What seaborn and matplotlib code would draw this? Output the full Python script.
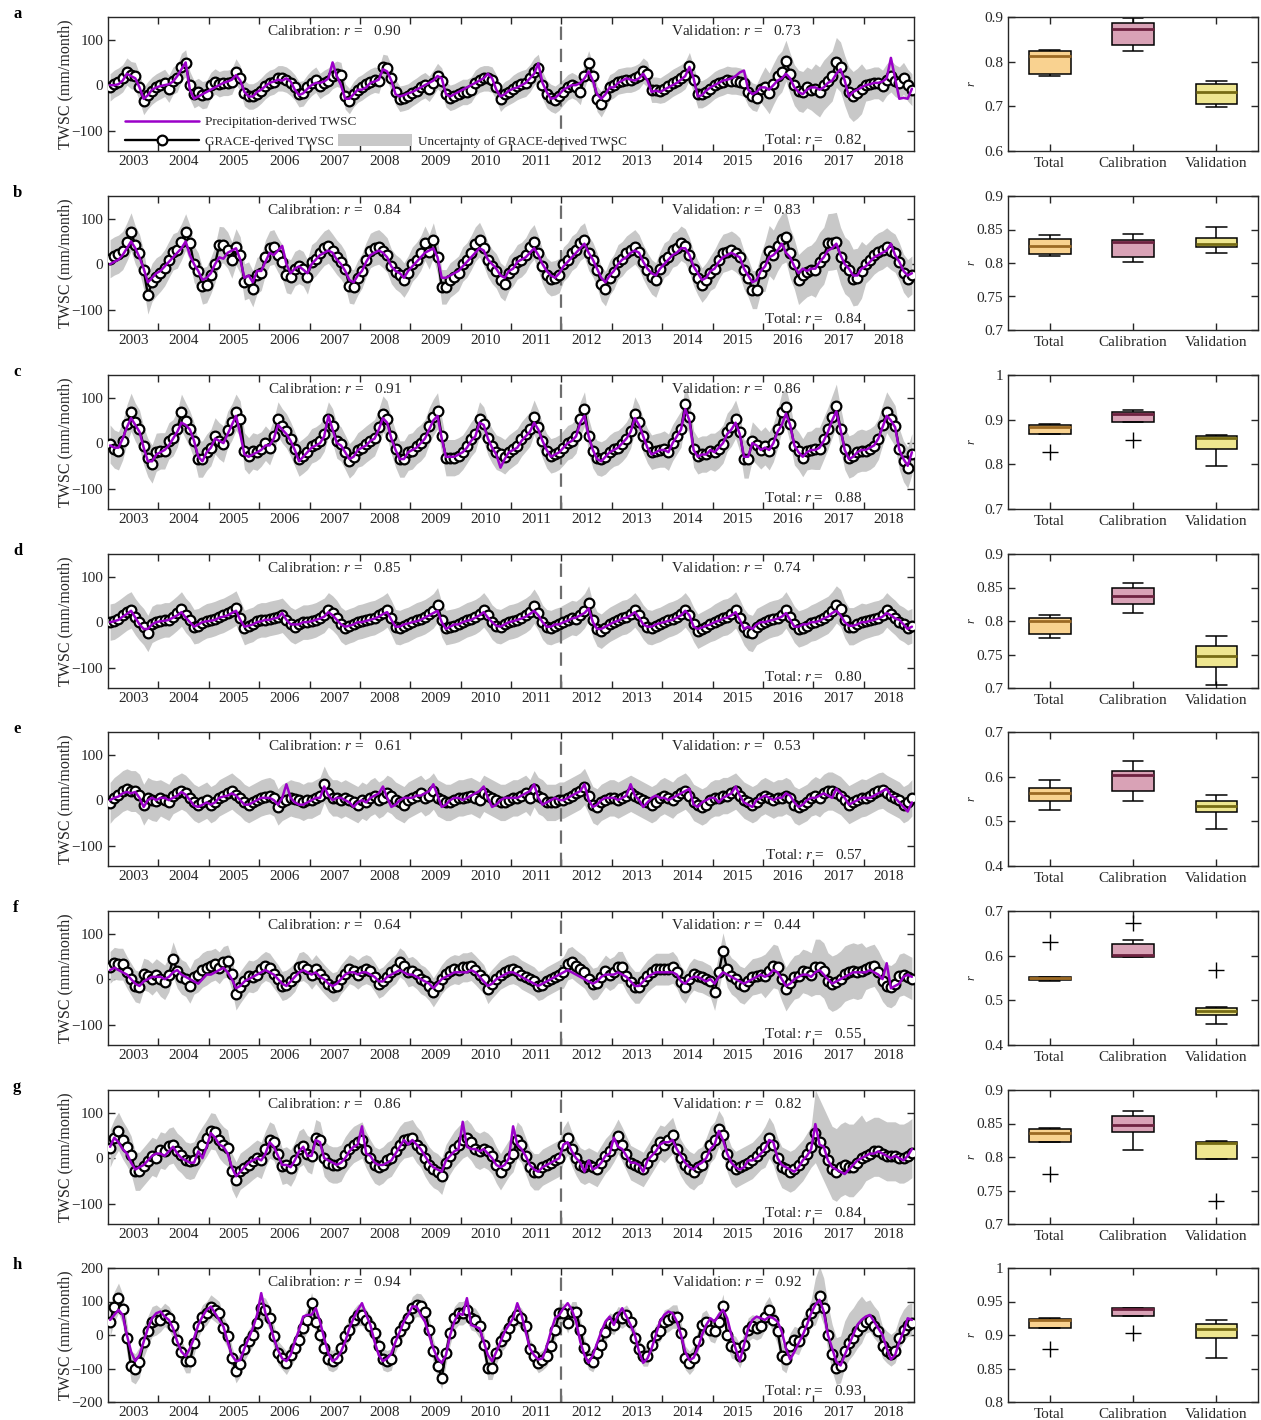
import numpy as np
import pandas as pd
import matplotlib
matplotlib.use("Agg")
import matplotlib.pyplot as plt
from matplotlib.lines import Line2D
from matplotlib.patches import Patch
from matplotlib.ticker import FormatStrFormatter
import seaborn as sns

# ---------------------------------------------------------------- data
YEARS = list(range(2003, 2019))
PANELS = ["a", "b", "c", "d", "e", "f", "g", "h"]

# Monthly TWSC (mm/month), Jan 2003 - Dec 2018, one row per year
GRACE_A = [
    -5, 3, 8, 15, 30, 22, 20, -5, -35, -22, -12, -5,
    0, 5, -8, 10, 15, 40, 48, 0, -20, -15, -22, -20,
    0, 8, 2, 5, 5, 8, 30, 15, -18, -25, -25, -20,
    -12, -2, 5, 8, 15, 15, 12, 5, -5, -20, -18, -5,
    5, 12, -2, 5, 10, 20, 25, 22, -25, -35, -20, -10,
    -5, 2, 8, 12, 10, 40, 38, 15, -15, -30, -28, -25,
    -18, -12, -5, 0, -8, 5, 20, 10, -20, -28, -25, -20,
    -15, -15, -10, 5, 12, 15, 15, 12, -5, -30, -20, -15,
    -8, -2, 2, 5, 15, 30, 38, 0, -20, -28, -32, -25,
    -15, -5, 0, -5, -15, 20, 48, 20, -30, -42, -25, -5,
    0, 8, 10, 12, 12, 15, 20, 32, 24, -10, -10, -12,
    -8, -2, 5, 10, 15, 22, 42, 12, -20, -20, -15, -8,
    0, 5, 8, 12, 10, 10, 8, 5, -15, -25, -28, -8,
    -5, -18, 2, 20, 30, 54, 25, 0, -12, -15, -5, -10,
    -8, -15, 0, 10, 20, 50, 40, 10, -15, -25, -18, -8,
    0, 2, 5, 5, -2, 12, 20, 10, 5, 15, 0, -10,
]
PRECIP_A = [
    0, 0, 2, 10, 25, 20, 15, -5, -30, -22, -10, -5,
    -2, 0, 2, 8, 20, 35, 50, -10, -30, -25, -20, -15,
    -10, -5, 0, 5, 8, 12, 22, 10, -15, -25, -25, -15,
    -10, -2, 5, 8, 12, 10, 15, 8, -10, -22, -18, -8,
    0, 5, 5, 8, 15, 50, 20, 0, -30, -30, -20, -10,
    -10, -5, 5, 8, 12, 35, 30, 10, -20, -25, -22, -18,
    -15, -10, -5, 0, 5, 10, 20, 15, -20, -25, -20, -15,
    -10, -5, 0, 5, 10, 15, 25, 15, -10, -25, -20, -12,
    -8, -5, 0, 5, 15, 25, 48, 5, -15, -30, -28, -20,
    -10, -5, 0, 0, 5, 15, 30, 10, -20, -30, -20, -5,
    -5, 5, 10, 15, 12, 10, 15, 25, 10, -15, -12, -15,
    -10, -5, 0, 5, 12, 20, 40, 15, -25, -22, -12, -5,
    0, 5, 10, 12, 15, 20, 28, 32, -10, -20, -15, -5,
    -5, -10, 0, 10, 15, 25, 15, -5, -15, -20, -10, -5,
    -5, -10, -5, 5, 10, 25, 35, 10, -25, -15, -10, -5,
    0, 2, 5, 5, 8, 15, 60, 15, -30, -28, -30, -8,
]
BAND_LO_A = [30, 30, 28, 28, 28, 28, 28, 28, 30, 28, 28, 30, 30, 45, 55, 35]
BAND_HI_A = [30, 30, 28, 28, 28, 28, 28, 28, 30, 28, 28, 30, 30, 45, 55, 35]

GRACE_B = [
    12, 18, 22, 30, 49, 71, 42, 24, -13, -68, -40, -28,
    -20, -8, 10, 27, 31, 49, 71, 46, 0, -15, -48, -45,
    -25, 0, 43, 42, 31, 9, 38, 20, -39, -35, -54, -25,
    -20, 15, 35, 38, 20, 5, -25, -28, -10, -5, -10, -28,
    5, 12, 24, 35, 40, 28, 15, 5, -10, -48, -50, -30,
    -15, 10, 30, 35, 38, 30, 20, -5, -17, -24, -35, -20,
    0, 10, 24, 46, 27, 53, 16, -50, -50, -35, -28, -20,
    0, 9, 25, 44, 54, 35, 10, -5, -15, -35, -43, -20,
    -10, 5, 10, 20, 38, 49, 24, -5, -24, -32, -30, -25,
    0, 9, 24, 31, 46, 53, 24, 10, -13, -43, -54, -30,
    -17, 5, 12, 24, 31, 38, 27, 5, -13, -28, -35, -10,
    9, 15, 31, 35, 46, 40, 20, -10, -30, -46, -35, -20,
    -10, 9, 24, 27, 31, 25, 16, -13, -30, -56, -56, -20,
    -5, 30, 20, 40, 55, 60, 24, 0, -34, -25, -17, -13,
    -13, 5, 16, 46, 47, 49, 16, -5, -13, -32, -30, -15,
    0, 9, 20, 27, 31, 38, 30, 24, 5, -20, -32, -24,
]
PRECIP_B = [
    0, 5, 10, 20, 35, 50, 35, 15, -10, -40, -30, -20,
    -15, -5, 5, 15, 25, 35, 50, 20, 0, -15, -35, -30,
    -20, 0, 15, 12, 25, 30, 35, 10, -30, -25, -40, -15,
    -15, 5, 25, 20, 30, 40, 0, -20, -10, -5, -12, -20,
    0, 10, 20, 25, 30, 25, 10, 0, -15, -35, -40, -25,
    -15, 5, 20, 25, 30, 25, 15, -5, -15, -20, -30, -15,
    -5, 5, 15, 25, 30, 35, 15, -30, -30, -25, -20, -15,
    -5, 5, 15, 25, 35, 30, 10, 0, -10, -25, -30, -15,
    -10, 5, 10, 15, 25, 35, 20, 0, -15, -25, -30, -20,
    -5, 5, 15, 25, 35, 45, 25, 10, -10, -30, -40, -25,
    -15, 0, 10, 15, 25, 30, 25, 5, -10, -20, -25, -10,
    0, 10, 20, 25, 35, 35, 20, -5, -20, -35, -30, -15,
    -10, 5, 15, 20, 25, 20, 15, -10, -25, -40, -35, -15,
    -5, 15, 20, 30, 45, 25, 15, -5, -20, -10, -15, -10,
    -10, 5, 15, 30, 35, 45, 20, 0, -10, -25, -25, -10,
    -5, 5, 15, 20, 25, 30, 45, 20, 5, -15, -25, -20,
]
BAND_LO_B = [42, 40, 40, 38, 38, 38, 38, 38, 38, 38, 38, 38, 42, 55, 60, 42]
BAND_HI_B = [42, 40, 40, 38, 38, 38, 38, 38, 38, 38, 38, 38, 42, 55, 65, 42]

GRACE_C = [
    -2, -13, -17, 5, 42, 68, 46, 31, -6, -32, -46, -20,
    -17, -17, 5, 12, 31, 68, 49, 31, 5, -35, -35, -20,
    -10, 16, 5, -2, 30, 46, 68, 53, -17, -28, -17, -20,
    -13, 0, -10, 15, 53, 38, 27, 9, -13, -35, -28, -20,
    -6, -2, 5, 20, 53, 38, 5, -2, -20, -39, -30, -15,
    -10, -2, 5, 12, 35, 64, 53, 16, -13, -35, -35, -20,
    -17, -6, 1, 12, 38, 57, 71, 16, -32, -32, -32, -28,
    -20, -6, 9, 20, 53, 42, 12, -6, -20, -24, -30, -20,
    -13, -6, 9, 20, 31, 57, 35, 5, -17, -28, -25, -20,
    -10, 1, 5, 16, 53, 75, 16, -17, -32, -35, -30, -20,
    -13, -10, -2, 9, 27, 64, 46, 16, -6, -20, -17, -15,
    -13, -20, 1, 16, 31, 86, 57, -13, -28, -24, -24, -18,
    -20, -13, -2, 24, 35, 53, 24, -35, -35, 5, -5, -15,
    -6, -17, 1, 31, 68, 79, 42, -6, -17, -32, -17, -15,
    -13, -13, 9, 31, 57, 82, 31, -13, -32, -28, -20, -17,
    -17, -13, -6, 9, 40, 68, 53, 38, -13, -40, -54, -24,
]
PRECIP_C = [
    -5, -10, -10, 10, 35, 55, 40, 25, -10, -40, -40, -25,
    -20, -15, -5, 10, 25, 45, 40, 30, 5, -30, -40, -20,
    -10, 10, 5, 0, 20, 40, 60, 20, -25, -30, -25, -20,
    -15, -5, -5, 10, 40, 30, 20, 5, -15, -40, -30, -20,
    -10, -5, 0, 15, 60, 30, 0, -5, -20, -35, -30, -15,
    -10, -5, 5, 10, 30, 55, 45, 10, -15, -35, -35, -20,
    -15, -10, 0, 10, 30, 50, 60, 10, -30, -30, -30, -25,
    -20, -10, 5, 15, 45, 40, 10, -10, -25, -54, -35, -20,
    -15, -10, 5, 15, 25, 45, 30, 5, -15, -30, -25, -20,
    -10, 0, 5, 15, 45, 60, 15, -15, -35, -40, -30, -20,
    -15, -10, 0, 10, 25, 55, 40, 15, -10, -25, -20, -15,
    -15, -20, 0, 15, 30, 75, 50, -15, -30, -25, -25, -15,
    -20, -10, 0, 20, 30, 45, 20, -30, -30, 0, -5, -15,
    -10, -15, 0, 25, 40, 65, 40, -5, -20, -30, -20, -15,
    -15, -10, 5, 25, 50, 70, 30, -15, -35, -30, -20, -15,
    -15, -10, -5, 10, 35, 60, 50, 35, -15, -35, -50, -20,
]
BAND_LO_C = [42, 40, 40, 38, 38, 40, 40, 38, 38, 38, 38, 40, 42, 42, 45, 45]
BAND_HI_C = [42, 40, 40, 38, 38, 40, 40, 38, 38, 38, 38, 40, 42, 42, 48, 45]

GRACE_D = [
    0, 2, 8, 15, 22, 27, 12, 0, -10, -25, -5, 0,
    2, 5, 5, 12, 20, 29, 15, 5, -10, -8, -2, 3,
    5, 8, 12, 15, 20, 25, 31, 10, -12, -8, -5, 2,
    5, 5, 8, 10, 12, 15, 5, -5, -10, -5, 0, 0,
    2, 5, 10, 15, 27, 20, 10, -5, -12, -8, -5, 0,
    2, 5, 8, 10, 15, 20, 27, 10, -10, -12, -8, -5,
    0, 5, 8, 12, 18, 25, 38, 5, -12, -10, -8, -5,
    0, 5, 8, 12, 18, 27, 15, 0, -8, -10, -5, 0,
    2, 5, 10, 15, 22, 35, 20, 0, -10, -12, -8, -5,
    0, 5, 10, 8, 15, 25, 42, 5, -15, -20, -12, -5,
    0, 5, 10, 12, 18, 27, 15, 0, -10, -12, -8, -5,
    0, 5, 8, 12, 18, 27, 15, -5, -20, -15, -10, -5,
    0, 5, 10, 12, 18, 27, 10, -10, -22, -25, -10, -5,
    0, 5, 8, 10, 15, 27, 12, -5, -15, -12, -8, -2,
    0, 5, 10, 15, 25, 38, 30, 5, -10, -10, -5, 0,
    2, 5, 8, 10, 15, 27, 18, 10, 0, -5, -12, -8,
]
PRECIP_D = [
    0, 2, 5, 12, 18, 25, 10, -5, -15, -15, -5, 0,
    2, 3, 5, 10, 15, 22, 10, 0, -10, -5, 0, 2,
    3, 5, 10, 12, 15, 20, 25, 5, -10, -8, -5, 0,
    2, 5, 5, 8, 10, 20, 5, -5, -5, -5, 0, 0,
    2, 5, 8, 12, 22, 15, 5, -5, -10, -8, -5, 0,
    0, 3, 5, 8, 12, 18, 22, 5, -10, -10, -5, -3,
    0, 2, 5, 10, 15, 20, 25, 0, -15, -10, -5, -5,
    0, 3, 5, 10, 15, 22, 10, 0, -8, -10, -5, 0,
    2, 5, 8, 12, 18, 25, 15, 0, -10, -10, -5, -5,
    0, 3, 8, 10, 15, 20, 30, 0, -15, -15, -10, -5,
    0, 3, 8, 10, 15, 22, 10, -5, -10, -10, -5, -2,
    0, 3, 5, 10, 15, 25, 15, -10, -15, -12, -8, -5,
    0, 3, 8, 10, 15, 22, 5, -15, -10, -15, -5, 0,
    0, 3, 5, 8, 12, 20, 5, -10, -10, -5, -5, 0,
    0, 3, 8, 12, 20, 25, 15, 0, -8, -8, -5, 0,
    0, 3, 5, 8, 12, 20, 15, 8, 5, -5, -15, -10,
]
BAND_LO_D = [40, 38, 38, 38, 38, 38, 38, 38, 38, 38, 38, 38, 40, 40, 40, 38]
BAND_HI_D = [40, 38, 38, 38, 38, 38, 38, 38, 38, 38, 38, 38, 40, 40, 42, 38]

GRACE_E = [
    -6, 5, 12, 20, 24, 20, 20, 12, -10, 5, 0, -2,
    5, 0, -5, 10, 15, 20, 15, 5, -5, -10, -5, 0,
    -10, -5, 5, 10, 15, 20, 12, 5, -5, -10, -5, 0,
    5, 8, 10, 5, -15, -5, 0, 5, 2, 0, -5, 0,
    0, 5, 10, 35, 15, 5, 5, 0, 5, 0, -5, -10,
    0, -5, 5, 10, 0, 5, 15, 10, 0, -5, -10, 0,
    5, 10, 15, 5, 10, 20, 5, 0, -5, -5, 0, 5,
    5, 8, 10, 5, 0, 15, 10, 5, 0, -5, -5, 0,
    5, 5, 10, 15, 5, 25, 10, 5, -5, -5, -5, 0,
    0, 5, 10, 15, 20, 30, 10, -10, -15, -5, 0, 5,
    5, 0, 5, 10, 15, 10, 5, 0, -5, -10, -5, 5,
    10, 5, 0, 10, 15, 20, 10, -5, -10, -15, -10, 0,
    5, 5, 10, 10, 15, 20, 10, 0, -5, -10, -5, 5,
    10, 5, 0, 5, 5, 10, 5, -10, -15, -10, -5, 5,
    10, 5, 15, 20, 20, 15, 10, 0, -10, -5, 0, 5,
    5, 10, 15, 20, 22, 15, 10, 5, 0, -10, -5, 5,
]
PRECIP_E = [
    0, 5, 8, 15, 18, 15, 18, 5, -15, 0, 5, 0,
    5, 5, 0, 5, 10, 18, 12, 0, -12, -15, -10, -5,
    -10, -5, 5, 8, 10, 15, 10, 0, -10, -10, -5, 0,
    5, 5, 5, 0, -10, 5, 35, 5, -5, -10, -10, -5,
    0, 5, 5, 30, 10, 0, 5, 5, 0, -5, -15, -5,
    0, -5, 5, 10, 15, 30, 5, -15, -10, 0, 5, 5,
    5, 10, 10, 15, 20, 35, 10, -15, -10, 0, 5, 5,
    0, 5, 10, 15, 20, 30, 5, -15, -10, 0, 5, 5,
    5, 5, 10, 15, 20, 35, 5, -10, -5, 0, 5, 0,
    0, 5, 10, 15, 20, 35, 0, -15, -10, 0, 5, 5,
    5, 0, 5, 10, 35, 10, 0, -15, -5, 5, 10, 5,
    5, 0, 5, 10, 15, 20, 25, -10, -15, -5, 0, 5,
    5, -5, 5, 10, 15, 30, 10, -5, -10, -15, 0, 5,
    10, 5, 0, 5, 5, 15, 10, -5, -15, -10, 0, 5,
    5, 10, 15, 10, 5, 25, 15, 5, -10, -5, 0, 5,
    5, 5, 10, 15, 20, 25, 10, 5, -5, -15, -25, -5,
]
BAND_LO_E = [45, 40, 40, 40, 40, 40, 40, 40, 40, 40, 40, 40, 40, 40, 42, 40]
BAND_HI_E = [45, 40, 40, 40, 40, 40, 40, 40, 40, 40, 40, 40, 40, 40, 42, 40]

GRACE_F = [
    26, 35, 33, 33, 15, 0, -15, -18, 11, 8, 0, 10,
    0, -7, 10, 44, 18, 5, 0, -15, 5, 10, 20, 25,
    29, 33, 25, 37, 40, 11, -33, -18, -5, 7, 5, 10,
    22, 29, 25, 12, 0, -15, -12, -5, 5, 26, 29, 22,
    10, 22, 11, 0, -10, -18, -15, 0, 11, 22, 18, 10,
    18, 22, 18, 5, -10, -5, 5, 15, 22, 37, 30, 15,
    18, 11, 0, -5, -15, -29, -15, 0, 11, 18, 22, 20,
    26, 26, 29, 20, 10, 0, -22, -10, 0, 10, 15, 20,
    22, 18, 10, 5, 0, -5, -15, -12, -5, 0, 5, 10,
    15, 33, 37, 29, 22, 15, 0, -11, -8, 5, 18, 10,
    15, 26, 26, 7, -7, -18, -18, -5, 7, 15, 22, 22,
    22, 22, 26, 15, -7, -18, 0, 11, 7, 5, 0, -5,
    -29, 15, 62, 22, 7, 0, -11, -15, -5, 5, 7, 10,
    7, 18, 29, 26, 0, -22, -8, 4, 7, 18, 15, 10,
    26, 26, 18, -4, -11, -7, 0, 11, 15, 18, 15, 18,
    22, 26, 29, 15, -4, -15, -18, -11, 7, 10, 5, 0,
]
PRECIP_F = [
    20, 25, 20, 15, 10, 0, -10, -15, -5, 0, 5, 5,
    5, 0, 5, 15, 20, 10, 5, 0, -5, -10, 0, 10,
    10, 15, 20, 25, 15, 0, -20, -15, -5, 0, 5, 10,
    15, 20, 15, 10, 0, -10, -15, -5, 5, 15, 20, 15,
    10, 15, 5, 0, -10, -15, -10, 0, 10, 15, 15, 10,
    15, 15, 10, 5, -5, -5, 5, 10, 15, 20, 15, 10,
    10, 5, 0, -5, -10, -20, -10, 0, 5, 10, 15, 15,
    15, 15, 20, 15, 5, -5, -15, -10, 0, 5, 10, 15,
    15, 10, 5, 0, -5, -10, -15, -10, -5, 0, 5, 10,
    15, 20, 15, 10, 5, 0, -5, -10, -5, 5, 10, 10,
    10, 15, 10, 5, -5, -15, -15, -5, 5, 10, 15, 15,
    15, 15, 15, 10, -5, -10, 0, 5, 5, 0, -5, 0,
    -10, 5, 15, 10, 5, 0, -5, -10, -5, 0, 5, 10,
    5, 10, 20, 15, 0, -15, -10, 0, 5, 10, 10, 5,
    15, 20, 10, 0, -10, -5, 0, 5, 10, 15, 15, 15,
    15, 20, 15, 10, 0, 35, -20, -15, -10, 5, 10, 5,
]
BAND_LO_F = [35, 38, 35, 32, 32, 32, 32, 32, 32, 35, 35, 35, 40, 48, 60, 45]
BAND_HI_F = [35, 38, 35, 32, 32, 32, 32, 32, 32, 35, 35, 35, 40, 48, 62, 48]

GRACE_G = [
    22, 44, 59, 40, 25, 7, -29, -29, -18, -7, 4, 0,
    18, 15, 26, 29, 15, 7, -4, -7, -4, 15, 30, 44,
    60, 58, 40, 29, 22, -29, -48, -29, -22, -15, -7, 0,
    -5, 20, 40, 35, 10, -18, -15, -22, -5, 20, 26, 10,
    5, 45, 40, 0, -11, -15, -15, -11, 7, 20, 30, 35,
    40, 18, 0, -15, -20, -15, -5, 0, 15, 30, 40, 42,
    45, 30, 20, 0, -15, -25, -30, -40, -10, 5, 20, 30,
    40, 45, 35, 20, 15, 20, 15, 5, -15, -30, -15, 0,
    10, 40, 30, 5, -20, -30, -30, -20, -15, -10, -5, 0,
    30, 45, 20, 0, -15, -20, -15, -20, -25, -10, 5, 15,
    30, 48, 30, 10, -10, -15, -20, -25, -10, 5, 20, 35,
    30, 40, 50, 20, 0, -15, -25, -30, -20, -15, 5, 30,
    40, 65, 50, 10, -15, -25, -20, -15, -10, -5, 5, 15,
    25, 45, 30, 0, -20, -25, -30, -25, -15, -5, 10, 25,
    55, 35, 15, -5, -25, -30, -20, -15, -20, -20, -10, 0,
    5, 10, 15, 15, 10, 5, 5, 5, 0, 0, 5, 12,
]
PRECIP_G = [
    25, 45, 35, 20, 10, -10, -25, -20, -15, -5, 5, 10,
    10, 5, 15, 25, 10, 0, -5, -10, -10, 15, 0, 25,
    55, 45, 30, 25, 10, -20, -40, -30, -20, -10, -5, 0,
    -5, 10, 35, 25, 5, -15, -15, -20, -5, 15, 25, 5,
    5, 40, 35, 0, -5, -10, -15, -10, 0, 15, 25, 30,
    70, 10, 5, -10, -15, -15, -10, -5, 10, 25, 40, 30,
    40, 30, 20, 5, -10, -20, -25, -30, -5, 5, 15, 20,
    80, 25, 20, 20, 15, 20, 10, 0, -15, -20, -15, 0,
    70, 30, 20, 5, -15, -25, -30, -20, -15, -10, -5, 0,
    30, 35, 15, 0, -10, -30, -5, -25, -20, -10, 5, 10,
    45, 25, 20, 5, -10, -10, -15, -30, -5, 5, 15, 30,
    35, 35, 40, 20, 5, -10, -20, -25, -15, -10, 0, 20,
    30, 60, 40, 10, -10, -20, -25, -20, -5, -5, 0, 10,
    20, 40, 35, 0, -15, -20, -25, -30, -20, -5, 5, 20,
    75, 30, 25, -5, -20, -25, -30, -35, -25, -15, -5, 0,
    5, 10, 10, 15, 10, 5, 0, 5, 0, -5, 5, 20,
]
BAND_LO_G = [42, 40, 40, 40, 40, 40, 40, 40, 40, 38, 38, 40, 40, 45, 65, 55]
BAND_HI_G = [42, 40, 40, 40, 40, 40, 40, 40, 40, 38, 38, 40, 40, 45, 95, 75]

GRACE_H = [
    40, 85, 110, 77, -9, -93, -101, -81, -22, 11, 40, 45,
    45, 60, 50, 26, -14, -51, -78, -78, -24, 26, 55, 65,
    85, 75, 65, 20, -4, -68, -108, -88, -43, -19, 1, 36,
    80, 75, 50, -4, -53, -68, -83, -60, -39, -14, 20, 45,
    95, 40, 0, -39, -73, -78, -70, -39, -4, 16, 45, 60,
    60, 45, 26, 6, -34, -73, -78, -73, -19, 11, 30, 50,
    80, 90, 88, 70, 16, -48, -93, -127, -53, 6, 50, 65,
    65, 75, 50, 45, 26, -29, -98, -98, -53, -19, -4, 21,
    45, 60, 50, 26, -43, -63, -83, -75, -63, -34, 16, 65,
    65, 36, 70, 70, 16, -40, -73, -80, -53, -29, 10, 36,
    31, 55, 50, 60, 40, -9, -43, -63, -63, -29, 1, 11,
    40, 45, 55, 55, 6, -68, -83, -68, -19, 31, 40, 16,
    11, 40, 87, 1, -34, -39, -63, -30, 16, 26, 20, 26,
    55, 75, 45, 11, -63, -73, -34, -14, -19, 11, 36, 65,
    80, 115, 80, 1, -58, -98, -93, -48, -24, -9, 11, 26,
    40, 45, 26, 11, -34, -48, -58, -48, -9, 16, 31, 36,
]
PRECIP_H = [
    45, 60, 75, 60, 0, -50, -78, -60, -20, 20, 50, 65,
    70, 55, 45, 20, -20, -50, -63, -40, -10, 30, 55, 75,
    85, 65, 45, 25, -20, -60, -78, -75, -40, -10, 20, 60,
    125, 65, 35, -10, -45, -70, -78, -60, -20, 15, 55, 60,
    60, 80, 40, -10, -55, -78, -70, -50, -20, 20, 50, 75,
    95, 60, 30, -20, -60, -78, -70, -55, -20, 10, 40, 60,
    85, 85, 60, 40, 0, -40, -70, -83, -60, 0, 40, 65,
    60, 110, 30, 25, 20, -20, -60, -78, -50, -20, 10, 30,
    50, 95, 60, 10, -40, -60, -73, -70, -35, 10, 50, 60,
    80, 95, 75, 40, -20, -60, -83, -60, -25, 10, 40, 55,
    30, 60, 80, 55, 30, 0, -50, -83, -70, -40, 0, 40,
    60, 70, 65, 40, 0, -50, -75, -68, -40, 0, 30, 50,
    40, 60, 75, 50, 0, -40, -78, -30, 20, 45, 55, 50,
    45, 55, 50, 40, 10, -40, -73, -50, -25, 0, 30, 65,
    90, 105, 70, 0, -40, -80, -91, -60, -30, 0, 30, 45,
    55, 60, 40, 20, 0, -40, -73, -60, -20, 10, 50, 45,
]
BAND_LO_H = [45, 35, 35, 35, 32, 32, 35, 35, 30, 30, 30, 35, 35, 40, 50, 35]
BAND_HI_H = [45, 35, 35, 35, 32, 32, 35, 35, 30, 30, 30, 35, 35, 40, 90, 60]

# Correlation coefficients quoted in each panel
CAL_R = [0.90, 0.84, 0.91, 0.85, 0.61, 0.64, 0.86, 0.94]
VAL_R = [0.73, 0.83, 0.86, 0.74, 0.53, 0.44, 0.82, 0.92]
TOT_R = [0.82, 0.84, 0.88, 0.80, 0.57, 0.55, 0.84, 0.93]

# Ensemble correlation coefficients for the box plots
TOTAL_A = [0.768, 0.772, 0.812, 0.824, 0.826]
CALIB_A = [0.824, 0.838, 0.873, 0.886, 0.897]
VALID_A = [0.699, 0.705, 0.731, 0.751, 0.757]
TOTAL_B = [0.810, 0.814, 0.826, 0.836, 0.842]
CALIB_B = [0.802, 0.809, 0.831, 0.835, 0.844]
VALID_B = [0.815, 0.824, 0.829, 0.837, 0.854]
TOTAL_C = [0.828, 0.868, 0.884, 0.889, 0.891]
CALIB_C = [0.855, 0.895, 0.912, 0.918, 0.921]
VALID_C = [0.797, 0.835, 0.858, 0.863, 0.866]
TOTAL_D = [0.775, 0.780, 0.800, 0.805, 0.809]
CALIB_D = [0.812, 0.825, 0.838, 0.849, 0.857]
VALID_D = [0.705, 0.732, 0.748, 0.763, 0.778]
TOTAL_E = [0.525, 0.545, 0.563, 0.574, 0.592]
CALIB_E = [0.545, 0.567, 0.603, 0.612, 0.635]
VALID_E = [0.482, 0.520, 0.535, 0.546, 0.560]
TOTAL_F = [0.543, 0.546, 0.549, 0.553, 0.630]
CALIB_F = [0.596, 0.597, 0.598, 0.600, 0.601, 0.610, 0.626, 0.636, 0.673]
VALID_F = [0.447, 0.460, 0.468, 0.472, 0.475, 0.480, 0.483, 0.486, 0.568]
TOTAL_G = [0.775, 0.822, 0.836, 0.842, 0.843]
CALIB_G = [0.810, 0.837, 0.848, 0.861, 0.868]
VALID_G = [0.735, 0.797, 0.821, 0.823, 0.824]
TOTAL_H = [0.879, 0.910, 0.923, 0.924, 0.925]
CALIB_H = [0.903, 0.928, 0.939, 0.940, 0.941]
VALID_H = [0.865, 0.895, 0.909, 0.917, 0.922]

PERIODS = ["Total", "Calibration", "Validation"]

# ---------------------------------------------------------------- style
sns.set_theme(style="ticks")
plt.rcParams.update({
    "font.family": ["Liberation Serif", "DejaVu Serif"],
    "mathtext.fontset": "custom",
    "mathtext.rm": "Liberation Serif",
    "mathtext.it": "Liberation Serif:italic",
    "axes.edgecolor": "#262626",
    "axes.linewidth": 1.0,
    "xtick.color": "#262626",
    "ytick.color": "#262626",
    "axes.labelcolor": "#262626",
    "text.color": "#262626",
    "figure.facecolor": "white",
    "axes.facecolor": "white",
})

PURPLE = "#9b00c8"
BAND = "#c8c8c8"
BOX_FACE = ["#f9d290", "#d9a2b6", "#eee690"]
BOX_MEDIAN = ["#9c6a25", "#6e2240", "#776c14"]

W, H = 1261, 1420
ROW_TOPS = [17, 196, 375, 554, 732, 911, 1090, 1268]
AX_H = 134

t = 2003 + (np.arange(len(YEARS) * 12) + 0.5) / 12


def draw_series(ax, grace, precip, lo, hi, ylim, yticks, r_cal, r_val, r_tot):
    g = np.asarray(grace, float)
    p = np.asarray(precip, float)
    lo_m = np.repeat(np.asarray(lo, float), 12)
    hi_m = np.repeat(np.asarray(hi, float), 12)
    ax.fill_between(t, g - lo_m, g + hi_m, color=BAND, linewidth=0, zorder=1)
    ax.axvline(2012, color="#6e6e6e", linewidth=1.6, dashes=(6, 4), zorder=2)
    sns.lineplot(x=t, y=g, ax=ax, color="black", linewidth=1.7, marker="o",
                 markersize=7, markerfacecolor="white", markeredgecolor="black",
                 markeredgewidth=1.6, zorder=3)
    sns.lineplot(x=t, y=p, ax=ax, color=PURPLE, linewidth=1.8, zorder=4)

    ax.set_xlim(2003, 2019)
    ax.set_ylim(*ylim)
    ax.set_yticks(yticks)
    ax.set_xticks(np.arange(2004, 2019))
    ax.set_xticklabels([])
    ax.set_xticks(np.array(YEARS) + 0.5, minor=True)
    ax.set_xticklabels([str(y) for y in YEARS], minor=True)
    ax.tick_params(axis="x", which="minor", length=0, pad=3, labelsize=11)
    ax.tick_params(which="major", direction="in", length=5, width=1,
                   top=True, right=True, labelsize=11)
    ax.set_ylabel("TWSC (mm/month)", fontsize=11.5)
    ax.yaxis.set_label_coords(-0.043, 0.5)
    ax.set_xlabel("")

    tr = ax.get_xaxis_transform()
    ax.text(2007.5, 0.895, f"Calibration: $r$ =   {r_cal:.2f}", transform=tr,
            ha="center", va="center", fontsize=11, zorder=6)
    ax.text(2015.48, 0.895, f"Validation: $r$ =   {r_val:.2f}", transform=tr,
            ha="center", va="center", fontsize=11, zorder=6)
    ax.text(2017.0, 0.085, f"Total: $r$ =   {r_tot:.2f}", transform=tr,
            ha="center", va="center", fontsize=11, zorder=6)


def draw_box(ax, total, calib, valid, ylim, yticks):
    df = pd.DataFrame({
        "period": ["Total"] * len(total) + ["Calibration"] * len(calib)
        + ["Validation"] * len(valid),
        "r": list(total) + list(calib) + list(valid),
    })
    sns.boxplot(data=df, x="period", y="r", hue="period", order=PERIODS,
                hue_order=PERIODS, palette=BOX_FACE, saturation=1, width=0.5,
                linecolor="black", linewidth=1.1, whis=1.5, legend=False,
                flierprops=dict(marker="+", markersize=11, markeredgecolor="black",
                                markeredgewidth=1.0),
                ax=ax)
    for cont, col in zip(ax.containers, BOX_MEDIAN):
        for m in getattr(cont, "medians", []):
            m.set_color(col)
            m.set_linewidth(2.0)
    ax.set_xlim(-0.5, 2.5)
    ax.set_ylim(*ylim)
    ax.set_yticks(yticks)
    ax.yaxis.set_major_formatter(FormatStrFormatter("%g"))
    ax.tick_params(which="major", direction="in", length=5, width=1,
                   top=True, right=True, labelsize=11)
    ax.tick_params(axis="x", pad=4)
    ax.set_xlabel("")
    ax.set_ylabel("r", fontstyle="italic", fontsize=9)
    ax.yaxis.set_label_coords(-0.124, 0.5)


SERIES = [
    (GRACE_A, PRECIP_A, BAND_LO_A, BAND_HI_A),
    (GRACE_B, PRECIP_B, BAND_LO_B, BAND_HI_B),
    (GRACE_C, PRECIP_C, BAND_LO_C, BAND_HI_C),
    (GRACE_D, PRECIP_D, BAND_LO_D, BAND_HI_D),
    (GRACE_E, PRECIP_E, BAND_LO_E, BAND_HI_E),
    (GRACE_F, PRECIP_F, BAND_LO_F, BAND_HI_F),
    (GRACE_G, PRECIP_G, BAND_LO_G, BAND_HI_G),
    (GRACE_H, PRECIP_H, BAND_LO_H, BAND_HI_H),
]
BOXES = [
    (TOTAL_A, CALIB_A, VALID_A, (0.6, 0.9), [0.6, 0.7, 0.8, 0.9]),
    (TOTAL_B, CALIB_B, VALID_B, (0.7, 0.9), [0.7, 0.75, 0.8, 0.85, 0.9]),
    (TOTAL_C, CALIB_C, VALID_C, (0.7, 1.0), [0.7, 0.8, 0.9, 1.0]),
    (TOTAL_D, CALIB_D, VALID_D, (0.7, 0.9), [0.7, 0.75, 0.8, 0.85, 0.9]),
    (TOTAL_E, CALIB_E, VALID_E, (0.4, 0.7), [0.4, 0.5, 0.6, 0.7]),
    (TOTAL_F, CALIB_F, VALID_F, (0.4, 0.7), [0.4, 0.5, 0.6, 0.7]),
    (TOTAL_G, CALIB_G, VALID_G, (0.7, 0.9), [0.7, 0.75, 0.8, 0.85, 0.9]),
    (TOTAL_H, CALIB_H, VALID_H, (0.8, 1.0), [0.8, 0.85, 0.9, 0.95, 1.0]),
]

fig = plt.figure(figsize=(W / 100, H / 100), dpi=100)

for i, letter in enumerate(PANELS):
    top = ROW_TOPS[i]
    bottom = 1 - (top + AX_H) / H
    ax_ts = fig.add_axes([108 / W, bottom, 806 / W, AX_H / H])
    ax_bx = fig.add_axes([1008 / W, bottom, 250 / W, AX_H / H])

    grace, precip, lo, hi = SERIES[i]
    if letter == "h":
        ylim, yticks = (-200, 200), [-200, -100, 0, 100, 200]
    else:
        ylim, yticks = (-145, 150), [-100, 0, 100]
    draw_series(ax_ts, grace, precip, lo, hi, ylim, yticks,
                CAL_R[i], VAL_R[i], TOT_R[i])

    total, calib, valid, bylim, byticks = BOXES[i]
    draw_box(ax_bx, total, calib, valid, bylim, byticks)

    fig.text(13 / W, 1 - (top - 3) / H, letter, fontsize=12, fontweight="bold",
             ha="left", va="center", color="black")

    if letter == "a":
        h_p = Line2D([], [], color=PURPLE, linewidth=1.8)
        h_g = Line2D([], [], color="black", linewidth=1.7, marker="o", markersize=7,
                     markerfacecolor="white", markeredgecolor="black",
                     markeredgewidth=1.6)
        h_u = Patch(facecolor=BAND, edgecolor="none")
        leg1 = ax_ts.legend([h_p, h_g],
                            ["Precipitation-derived TWSC", "GRACE-derived TWSC"],
                            loc="lower left", bbox_to_anchor=(0.021, 0.025),
                            frameon=False, fontsize=9.5, handlelength=5.6,
                            handletextpad=0.5, labelspacing=0.55, borderpad=0,
                            borderaxespad=0, numpoints=1)
        ax_ts.add_artist(leg1)
        ax_ts.legend([h_u], ["Uncertainty of GRACE-derived TWSC"],
                     loc="lower left", bbox_to_anchor=(0.285, 0.025),
                     frameon=False, fontsize=9.5, handlelength=5.6,
                     handleheight=1.0, handletextpad=0.5, borderpad=0,
                     borderaxespad=0)

fig.savefig("out.png", dpi=100, facecolor="white")
